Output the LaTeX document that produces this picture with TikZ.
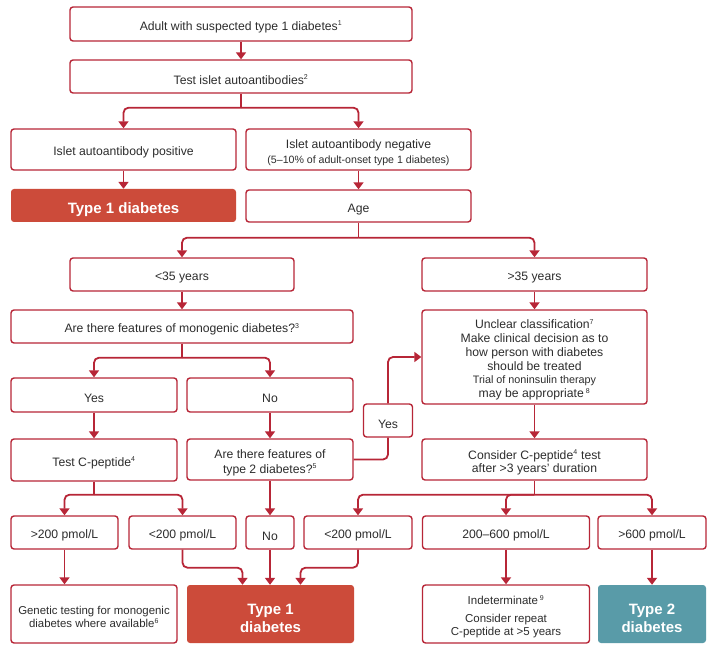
\documentclass[tikz,border=0pt]{standalone}
\usepackage{fontspec}
\setmainfont{Liberation Sans}
\usetikzlibrary{arrows.meta,calc}
\definecolor{lc}{RGB}{183,38,55}
\definecolor{tred}{RGB}{204,75,58}
\definecolor{teal2}{RGB}{89,155,168}
\definecolor{txt}{RGB}{45,45,45}
\newcommand{\sps}[1]{\textsuperscript{\fontsize{7}{8}\selectfont #1}}
\newcommand{\tp}{\rule{0pt}{1.24em}}
\begin{document}
\begin{tikzpicture}[x=1pt,y=-1pt,
  box/.style={draw=lc,line width=1.4pt,rounded corners=3pt,fill=white,text=txt,align=center,inner sep=1pt,font=\fontsize{12.2}{14}\selectfont},
  redbox/.style={fill=tred,rounded corners=3pt,text=white,align=center,inner sep=1pt,font=\fontsize{15}{18}\selectfont\bfseries},
  tealbox/.style={fill=teal2,rounded corners=3pt,text=white,align=center,inner sep=1pt,font=\fontsize{15}{18}\selectfont\bfseries},
  conn/.style={draw=lc,line width=1.8pt,rounded corners=5pt},
  arr/.style={conn,-{Triangle[width=10pt,length=7pt]}},
  sz/.style 2 args={minimum width=#1pt,minimum height=#2pt}
]
\useasboundingbox (0,0) rectangle (720,655);
% nodes
\node[box,sz={342}{34}] (A) at (241,24) {\tp Adult with suspected type 1 diabetes\sps{1}};
\node[box,sz={342}{33}] (B) at (241,76.5) {\tp Test islet autoantibodies\sps{2}};
\node[box,sz={225}{41}] (C) at (123.5,149.5) {\tp Islet autoantibody positive};
\node[box,sz={225}{41}] (D) at (358.5,149.5) {\tp Islet autoantibody negative\\[1pt]\fontsize{10.6}{12}\selectfont (5--10\% of adult-onset type 1 diabetes)};
\node[redbox,sz={225}{33}] (E) at (123.5,205.5) {\tp Type 1 diabetes};
\node[box,sz={225}{32}] (F) at (358.5,206) {\tp Age};
\node[box,sz={224}{33}] (G) at (182,274.5) {\tp <35 years};
\node[box,sz={342}{33}] (H) at (182,326.5) {\tp Are there features of monogenic diabetes?\sps{3}};
\node[box,sz={166}{34}] (I) at (94,395) {\tp Yes};
\node[box,sz={166}{34}] (J) at (270,395) {\tp No};
\node[box,sz={166}{42}] (K) at (94,460) {\tp Test C-peptide\sps{4}};
\node[box,sz={166}{41},font=\fontsize{12.2}{15}\selectfont] (L) at (270,459.5) {\tp Are there features of\\type 2 diabetes?\sps{5}};
\node[box,sz={225}{33}] (M) at (534.5,274.5) {\tp >35 years};
\node[box,sz={225}{94}] (N) at (534.5,357) {\tp Unclear classification\sps{7}\\[0pt]\fontsize{12.2}{13.2}\selectfont Make clinical decision as to\\how person with diabetes\\should be treated\\[-1pt]\fontsize{10.8}{13}\selectfont Trial of noninsulin therapy\\may be appropriate\,\sps{8}};
\node[box,sz={225}{41},font=\fontsize{12.2}{13.2}\selectfont] (O) at (534.5,459.5) {\tp Consider C-peptide\sps{4} test\\after >3 years' duration};
\node[box,sz={49}{33}] (Y2) at (388,420.5) {\tp Yes};
\node[box,sz={107}{33}] (P1) at (64.5,532.5) {\tp >200 pmol/L};
\node[box,sz={107}{33}] (P2) at (182.5,532.5) {\tp <200 pmol/L};
\node[box,sz={48}{33}] (P3) at (270,532.5) {\tp No};
\node[box,sz={108}{33}] (P4) at (358,532.5) {\tp <200 pmol/L};
\node[box,sz={167}{33}] (P5) at (506,532.5) {\tp 200--600 pmol/L};
\node[box,sz={108}{33}] (P6) at (652,532.5) {\tp >600 pmol/L};
\node[box,sz={166}{58},font=\fontsize{11.4}{13}\selectfont] (Q1) at (94,614) {\tp Genetic testing for monogenic\\diabetes where available\sps{6}};
\node[redbox,sz={167}{58},font=\fontsize{15}{18}\selectfont\bfseries] (Q2) at (270.5,614) {\tp Type 1\\diabetes};
\node[box,sz={167}{58},font=\fontsize{11.5}{13}\selectfont] (Q3) at (506,614) {\tp Indeterminate\,\sps{9}\\[5pt]Consider repeat\\C-peptide at >5 years};
\node[tealbox,sz={108}{58}] (Q4) at (652,614) {\tp Type 2\\diabetes};
% junctions
\coordinate (jB) at ($(B.south)+(0,14)$);
\coordinate (jF) at ($(F.south)+(0,15)$);
\coordinate (jH) at ($(H.south)+(0,14)$);
\coordinate (jK) at ($(K.south)+(0,13)$);
\coordinate (jO) at ($(O.south)+(0,14)$);
% connectors
\draw[arr] (A) -- (B);
\draw[conn] (B.south) -- (jB);
\draw[arr] (jB) -| (C.north);
\draw[arr] (jB) -| (D.north);
\draw[arr] (C) -- (E);
\draw[arr] (D) -- (F);
\draw[conn] (F.south) -- (jF);
\draw[arr] (jF) -| (G.north);
\draw[arr] (jF) -| (M.north);
\draw[arr] (G) -- (H);
\draw[conn] (H.south) -- (jH);
\draw[arr] (jH) -| (I.north);
\draw[arr] (jH) -| (J.north);
\draw[arr] (I) -- (K);
\draw[arr] (J) -- (L);
\draw[conn] (L.east) -| (Y2.south);
\draw[arr] (Y2.north) |- (N.west);
\draw[arr] (M) -- (N);
\draw[arr] (N) -- (O);
\draw[conn] (K.south) -- (jK);
\draw[arr] (jK) -| (P1.north);
\draw[arr] (jK) -| (P2.north);
\draw[arr] (L.south) -- (P3.north);
\draw[conn] (O.south) -- (jO);
\draw[arr] (jO) -| (P4.north);
\draw[arr] (jO) -| (P5.north);
\draw[arr] (jO) -| (P6.north);
\draw[arr] (P1.south) -- (P1.south |- Q1.north);
\draw[arr] (P2.south) -- ++(0,18) -| ([xshift=-28pt]Q2.north);
\draw[arr] (P3.south) -- (P3.south |- Q2.north);
\draw[arr] (P4.south) -- ++(0,18) -| ([xshift=30pt]Q2.north);
\draw[arr] (P5.south) -- (P5.south |- Q3.north);
\draw[arr] (P6.south) -- (Q4.north);
\end{tikzpicture}
\end{document}
